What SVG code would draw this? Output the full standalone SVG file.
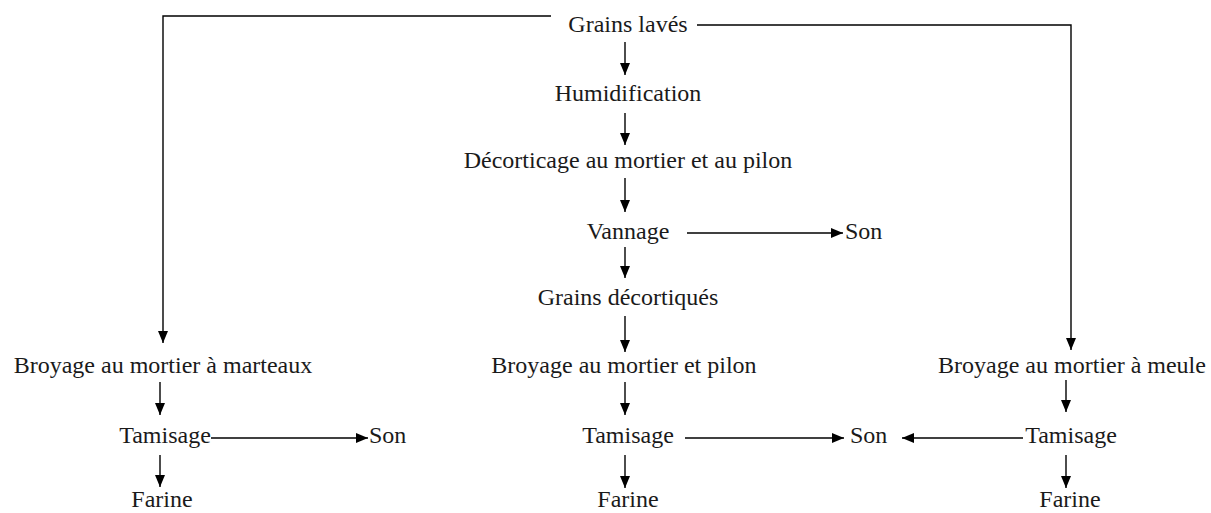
<svg xmlns="http://www.w3.org/2000/svg" width="1211" height="513" viewBox="0 0 1211 513" font-family="'Liberation Serif', 'Times New Roman', serif">
<defs>
<marker id="ah" viewBox="0 0 12 10" refX="12" refY="5" markerWidth="12" markerHeight="10" markerUnits="userSpaceOnUse" orient="auto">
<path d="M0,0 L12,5 L0,10 Z" fill="#000"/>
</marker>
<style>
text{font-family:'Liberation Serif',serif;font-size:24px;fill:#1a1a1a}
.m{text-anchor:middle}
.c{fill:none;stroke:#000;stroke-width:1.4}
.a{marker-end:url(#ah)}
</style>
</defs>
<rect width="1211" height="513" fill="#fff"/>
<g id="connectors">
<polyline class="c a" points="551,16 163,16 163,343"/>
<polyline class="c a" points="697,25 1071,25 1071,350"/>
<line class="c a" x1="625" y1="42" x2="625" y2="75"/>
<line class="c a" x1="625" y1="113" x2="625" y2="145"/>
<line class="c a" x1="625" y1="178" x2="625" y2="212"/>
<line class="c a" x1="687" y1="233" x2="843" y2="233"/>
<line class="c a" x1="625" y1="247" x2="625" y2="278"/>
<line class="c a" x1="625" y1="316" x2="625" y2="352"/>
<line class="c a" x1="625" y1="382" x2="625" y2="415"/>
<line class="c a" x1="685" y1="438" x2="844" y2="438"/>
<line class="c a" x1="625" y1="455" x2="625" y2="488"/>
<line class="c a" x1="160" y1="382" x2="160" y2="415"/>
<line class="c a" x1="211" y1="438" x2="368" y2="438"/>
<line class="c a" x1="160" y1="455" x2="160" y2="487"/>
<line class="c a" x1="1023" y1="438" x2="902" y2="438"/>
<line class="c a" x1="1066" y1="380" x2="1066" y2="412"/>
<line class="c a" x1="1066" y1="455" x2="1066" y2="488"/>
</g>
<g id="n-grains-laves"><text class="m" x="628" y="32">Grains lavés</text></g>
<g id="n-humidification"><text class="m" x="628" y="101">Humidification</text></g>
<g id="n-decorticage"><text class="m" x="628" y="168">Décorticage au mortier et au pilon</text></g>
<g id="n-vannage"><text class="m" x="628" y="239">Vannage</text></g>
<g id="n-son-vannage"><text x="845" y="239">Son</text></g>
<g id="n-grains-decortiques"><text class="m" x="628" y="305">Grains décortiqués</text></g>
<g id="n-broyage-pilon"><text class="m" x="624" y="373">Broyage au mortier et pilon</text></g>
<g id="n-tamisage-centre"><text class="m" x="628" y="443">Tamisage</text></g>
<g id="n-son-centre"><text x="850" y="443">Son</text></g>
<g id="n-farine-centre"><text class="m" x="628" y="507">Farine</text></g>
<g id="n-broyage-marteaux"><text class="m" x="163" y="373">Broyage au mortier à marteaux</text></g>
<g id="n-tamisage-gauche"><text class="m" x="165" y="443">Tamisage</text></g>
<g id="n-son-gauche"><text x="369" y="443">Son</text></g>
<g id="n-farine-gauche"><text class="m" x="162" y="507">Farine</text></g>
<g id="n-broyage-meule"><text class="m" x="1072" y="373">Broyage au mortier à meule</text></g>
<g id="n-tamisage-droite"><text class="m" x="1071" y="443">Tamisage</text></g>
<g id="n-farine-droite"><text class="m" x="1070" y="507">Farine</text></g>
</svg>
